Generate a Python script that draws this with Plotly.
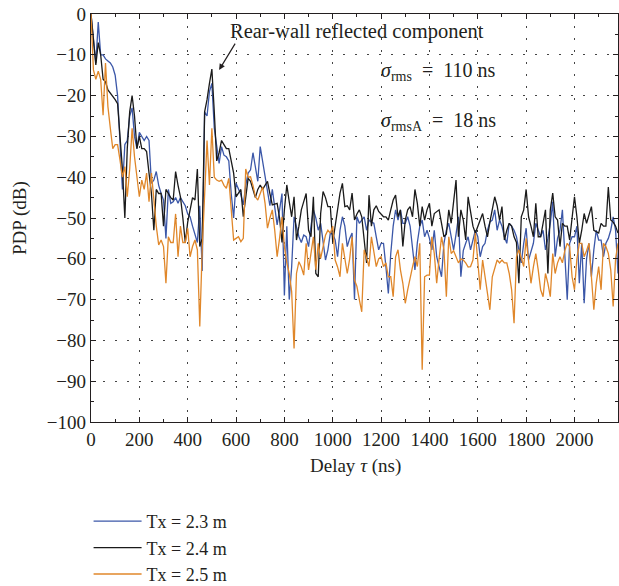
import plotly.graph_objects as go

# Delay axis: 0..2180 ns in 10 ns steps
delay_step_ns = 10
n_points = 219

pdp_tx23 = [
    0, -7, -12, -2, -10, -10, -11, -11.5, -12, -13,
    -15, -20, -30, -43, -32, -31, -25, -23, -30, -33,
    -29, -30, -31, -30, -31, -41.5, -40.7, -38.6, -42, -44,
    -45.6, -55, -43, -46.4, -46, -45, -46.4, -45, -46, -47,
    -49, -49.7, -52, -54, -56, -47, -63, -24, -25, -19,
    -17, -28, -33, -36.6, -32.5, -34.6, -35, -36, -44, -50,
    -41.5, -43, -44.3, -46.8, -42, -39, -38.2, -34, -38, -41,
    -32.5, -36, -40, -44, -47, -43, -47, -51.7, -48, -44,
    -69, -52, -70, -62, -49.7, -52, -54.6, -56, -54.2, -54.6,
    -57, -52, -48, -50, -53, -51.3, -56, -60.3, -57.8, -53.7,
    -54, -55.4, -59.5, -53, -49.7, -52, -57, -55, -53.7, -70,
    -49.7, -51.3, -50.5, -49.7, -53, -50.5, -51, -51.3, -54.6, -57.8,
    -56.2, -56.2, -62, -68.5, -58.7, -52, -48, -50.5, -48, -51.3,
    -51.3, -49.7, -52, -57, -62.7, -56, -52, -50.5, -54.6, -53,
    -55, -57.8, -53, -59.5, -62, -64.4, -56.2, -53, -51.3, -54.6,
    -57.8, -54, -49.7, -64.4, -58, -56.2, -54.6, -57.8, -55, -53,
    -54.6, -59.5, -57, -56.2, -53, -51, -50.5, -48, -53, -50.5,
    -52, -54.6, -56.2, -51.3, -52, -53, -54.6, -58, -61, -56.2,
    -52.5, -60.3, -58, -56.2, -51.3, -53, -54.6, -53, -57.8, -55,
    -51.3, -46, -59.5, -55, -53, -48, -59, -70, -56.2, -54.6,
    -54.6, -52, -66, -56.2, -70.9, -60, -56.2, -64.4, -57.8, -53,
    -55.4, -55.4, -59.5, -56.2, -55, -53, -49.7, -53, -63.6,
]

pdp_tx24 = [
    0, -5.6, -12.5, -7, -10, -16, -16.6, -18.6, -19.4, -20,
    -21, -22, -31, -38, -50, -33, -24, -20, -25, -33,
    -30, -33, -33, -33.7, -39, -44, -53, -43, -44, -44,
    -52, -43, -44, -45, -45.6, -38.6, -42, -44.8, -50, -56,
    -51, -48, -45, -45.6, -38, -57, -55, -24, -21, -17,
    -13.5, -24, -36, -34, -31, -32, -33, -33, -36, -39,
    -44.8, -44, -43, -49.7, -45, -40.3, -41, -43, -45, -43,
    -41.9, -43, -42, -41, -44, -46.8, -46.6, -46.4, -50, -56,
    -48, -41.9, -46, -49.7, -44.8, -55.4, -52, -48, -46, -44,
    -53, -54.6, -44.8, -63.6, -64.4, -48.9, -43.5, -45, -47.2, -47.2,
    -56, -52, -48, -43.9, -41.5, -47.2, -47, -48, -43.9, -50.5,
    -49, -48, -49.7, -55, -61, -44.4, -52, -48, -47, -48.4,
    -49, -49.7, -49.7, -50.5, -48, -45.6, -44.4, -49.7, -48, -57,
    -50.5, -48, -47.2, -49.7, -43, -46.4, -52, -47.2, -50.5, -48,
    -46.4, -52, -48.9, -48.5, -48, -51.3, -54.6, -54, -48, -51.3,
    -46, -40.7, -54.6, -48, -50.5, -55.4, -44.8, -48, -52, -53.7,
    -52, -50.5, -48.9, -52, -54.6, -51, -48, -44.8, -47, -50.5,
    -47.2, -55.4, -53, -51.3, -52, -54.6, -56, -66, -49.7, -48,
    -43, -49.7, -52, -54.6, -46.4, -54.6, -54.6, -51, -48, -63.6,
    -48, -43.9, -49.7, -50.5, -57, -51.3, -52, -52, -55.4, -50,
    -44.8, -49.7, -56.2, -53, -48.9, -51.3, -49, -47.2, -53, -53.4,
    -53.7, -51.3, -52, -52, -42.4, -50.5, -51, -52, -53.7,
]

pdp_tx25 = [
    0, -13.7, -16, -14, -16, -24.8, -12, -22.7, -28, -33,
    -32, -32, -35.8, -40, -37.4, -44.8, -38, -28, -35, -40,
    -44.8, -40.7, -43, -39, -46, -39, -46.4, -52, -56.6, -55.4,
    -57, -66, -54.6, -56, -56, -49, -59.5, -52, -56, -56,
    -52.5, -59.5, -57, -55.4, -57.8, -76.6, -57.8, -42, -31, -41.9,
    -28, -40, -40.7, -41, -40.7, -42, -42.7, -40.3, -48, -55.4,
    -55, -54.6, -55.8, -55, -38, -40, -39.9, -42, -44.8, -45.6,
    -44, -42.4, -46.4, -52.5, -50, -48, -53, -59.5, -55, -49.7,
    -57, -61, -63.6, -68, -82, -63.6, -60.7, -62, -64, -56.2,
    -62.7, -58.7, -54.6, -62.7, -56.2, -59.9, -57, -54.2, -53, -53.7,
    -52, -60.3, -62, -64.4, -56.2, -59.5, -63.6, -60, -54.6, -65.2,
    -66.8, -70, -73, -57.8, -60, -61.9, -54.6, -57.8, -61.9, -60,
    -59.5, -61.9, -61, -64.4, -64.4, -69.3, -59.5, -57.8, -62.7, -66,
    -70.9, -67.6, -64.4, -62, -59.5, -61.9, -56.2, -87.2, -64.4, -64,
    -64, -54.6, -58.7, -66, -60, -54.6, -57.8, -69.3, -54.6, -58.7,
    -58, -59.5, -61, -60, -60.3, -61, -62, -61.9, -60.3, -53.7,
    -60, -67.6, -60.3, -64.4, -68, -72.5, -64.4, -62, -60.3, -61,
    -60.3, -61, -61, -63.6, -67.6, -75.8, -59.5, -57.8, -60, -61.9,
    -55, -60.3, -66, -62, -58.7, -62.7, -67.6, -69.3, -63.6, -66,
    -69.3, -58.7, -63.6, -61, -59.5, -61, -58, -56.2, -57, -64.4,
    -67.6, -60, -56.2, -56.2, -59.5, -58, -56.2, -64.4, -72.5, -66,
    -61.9, -67.6, -56.2, -57, -58.7, -62.7, -71.7, -60, -56.2,
]

delays = [i * delay_step_ns for i in range(n_points)]

series_names = ["Tx = 2.3 m", "Tx = 2.4 m", "Tx = 2.5 m"]
series_values = [pdp_tx23, pdp_tx24, pdp_tx25]
series_colors = ["#3b57a8", "#1a1a1a", "#e0872a"]

x_ticks = list(range(0, 2001, 200))
y_ticks = list(range(-100, 1, 10))
y_tick_text = ["0" if v == 0 else "\u2212" + str(-v) for v in y_ticks]

FONT = "Liberation Serif"
TXT = "#231f20"

fig = go.Figure()
for name, vals, col in zip(series_names, series_values, series_colors):
    fig.add_trace(go.Scatter(
        x=delays, y=vals, mode="lines", name=name,
        line=dict(color=col, width=1.3),
    ))

axis_common = dict(
    showline=True, linecolor=TXT, linewidth=1.3, mirror="allticks",
    ticks="inside", ticklen=5, tickcolor=TXT, tickwidth=1,
    showgrid=True, gridcolor="#444", griddash="2px,10px", gridwidth=1,
    zeroline=False,
    tickfont=dict(family=FONT, size=19, color=TXT),
)

fig.update_xaxes(
    range=[0, 2180], tickvals=x_ticks,
    minor=dict(ticks="inside", ticklen=3, dtick=100, tickcolor=TXT, showgrid=False),
    **axis_common,
)
fig.update_yaxes(
    range=[-100, 0], tickvals=y_ticks, ticktext=y_tick_text,
    minor=dict(ticks="inside", ticklen=3, dtick=5, tickcolor=TXT, showgrid=False),
    **axis_common,
)

# axis titles as paper-anchored text
fig.add_annotation(
    x=0.501, y=-0.108, xref="paper", yref="paper", showarrow=False,
    xanchor="center", yanchor="middle",
    text="Delay <i>τ</i> (ns)", font=dict(family=FONT, size=19, color=TXT),
)
fig.add_annotation(
    x=-0.1347, y=0.5, xref="paper", yref="paper", showarrow=False,
    xanchor="center", yanchor="middle", textangle=-90,
    text="PDP (dB)", font=dict(family=FONT, size=19, color=TXT),
)

fig.add_annotation(
    x=530, y=-13.7, ax=600, ay=-6.9, axref="x", ayref="y", xref="x", yref="y",
    showarrow=True, arrowhead=2, arrowsize=1, arrowwidth=1.2, arrowcolor=TXT, text="",
)
fig.add_annotation(
    x=1100, y=-4.4, xref="x", yref="y", showarrow=False,
    text="Rear-wall reflected component",
    font=dict(family=FONT, size=20.5, color=TXT),
)
fig.add_annotation(
    x=1190, y=-14, xref="x", yref="y", xanchor="left", showarrow=False,
    text="<i>σ</i><sub>rms</sub>  =  110 ns",
    font=dict(family=FONT, size=20, color=TXT),
)
fig.add_annotation(
    x=1190, y=-26.3, xref="x", yref="y", xanchor="left", showarrow=False,
    text="<i>σ</i><sub>rmsA</sub>  =  18 ns",
    font=dict(family=FONT, size=20, color=TXT),
)

fig.update_layout(
    width=619, height=586,
    margin=dict(l=91, r=1, t=14, b=164, autoexpand=False),
    paper_bgcolor="white", plot_bgcolor="white",
    showlegend=True,
    legend=dict(
        x=-0.0046, y=-0.1985, xanchor="left", yanchor="top",
        font=dict(family=FONT, size=18, color=TXT),
        bgcolor="rgba(0,0,0,0)", tracegroupgap=0, itemwidth=48,
    ),
    font=dict(family=FONT, color=TXT),
)

fig.write_html("out.html")
